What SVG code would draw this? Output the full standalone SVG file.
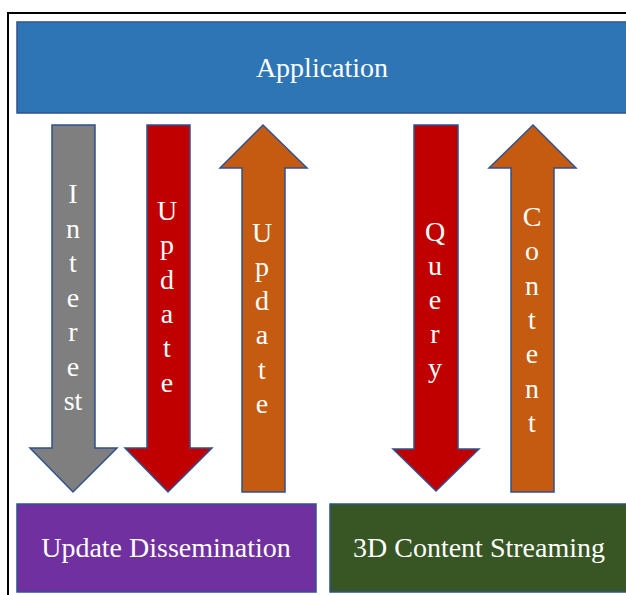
<svg xmlns="http://www.w3.org/2000/svg" width="626" height="595" viewBox="0 0 626 595">
<style>
.box{stroke:#2F528F;stroke-width:1.5}
.arr{stroke:#2F528F;stroke-width:1.5;stroke-linejoin:miter}
.lbl{font-family:"Liberation Serif","Times New Roman",serif;fill:#FFFFFF;font-size:28px;text-anchor:middle}
.vl{font-family:"Liberation Serif","Times New Roman",serif;fill:#FFFFFF;font-size:28px;text-anchor:middle}
</style>
<rect x="0" y="0" width="626" height="595" fill="#FFFFFF"/>
<rect x="8" y="13" width="700" height="700" fill="none" stroke="#000000" stroke-width="2"/>
<g id="application">
<rect class="box" x="17" y="22" width="612" height="91" fill="#2E75B6"/>
<text class="lbl" x="322" y="77">Application</text>
</g>
<g id="update-dissemination">
<rect class="box" x="17" y="504" width="299" height="88" fill="#7030A0"/>
<text class="lbl" x="166" y="557">Update Dissemination</text>
</g>
<g id="content-streaming">
<rect class="box" x="330" y="504" width="299" height="88" fill="#375623"/>
<text class="lbl" x="479" y="557">3D Content Streaming</text>
</g>
<g id="connectors">
<g id="interest">
<path class="arr" fill="#7F7F7F" d="M52,125 H95 V448 H117 L73,492 L30,448 H52 Z"/>
<text class="vl" x="73"><tspan x="73" y="203">I</tspan><tspan x="73" dy="34.5">n</tspan><tspan x="73" dy="34.5">t</tspan><tspan x="73" dy="34.5">e</tspan><tspan x="73" dy="34.5">r</tspan><tspan x="73" dy="34.5">e</tspan><tspan x="73" dy="34.5">st</tspan></text>
</g>
<g id="update-down">
<path class="arr" fill="#C00000" d="M147,125 H190 V448 H212 L168,492 L125,448 H147 Z"/>
<text class="vl" x="167"><tspan x="167" y="220">U</tspan><tspan x="167" dy="34.3">p</tspan><tspan x="167" dy="34.3">d</tspan><tspan x="167" dy="34.3">a</tspan><tspan x="167" dy="34.3">t</tspan><tspan x="167" dy="34.3">e</tspan></text>
</g>
<g id="update-up">
<path class="arr" fill="#C55A11" d="M242,492 H285 V168 H307 L263,125 L220,168 H242 Z"/>
<text class="vl" x="262"><tspan x="262" y="241.5">U</tspan><tspan x="262" dy="34.3">p</tspan><tspan x="262" dy="34.3">d</tspan><tspan x="262" dy="34.3">a</tspan><tspan x="262" dy="34.3">t</tspan><tspan x="262" dy="34.3">e</tspan></text>
</g>
<g id="query">
<path class="arr" fill="#C00000" d="M414,125 H458 V449 H479 L436,491 L393,449 H414 Z"/>
<text class="vl" x="435"><tspan x="435" y="241">Q</tspan><tspan x="435" dy="34">u</tspan><tspan x="435" dy="34">e</tspan><tspan x="435" dy="34">r</tspan><tspan x="435" dy="34">y</tspan></text>
</g>
<g id="content">
<path class="arr" fill="#C55A11" d="M511,492 H554 V168 H576 L533,125 L489,168 H511 Z"/>
<text class="vl" x="532"><tspan x="532" y="226">C</tspan><tspan x="532" dy="34.3">o</tspan><tspan x="532" dy="34.3">n</tspan><tspan x="532" dy="34.3">t</tspan><tspan x="532" dy="34.3">e</tspan><tspan x="532" dy="34.3">n</tspan><tspan x="532" dy="34.3">t</tspan></text>
</g>
</g>
</svg>
